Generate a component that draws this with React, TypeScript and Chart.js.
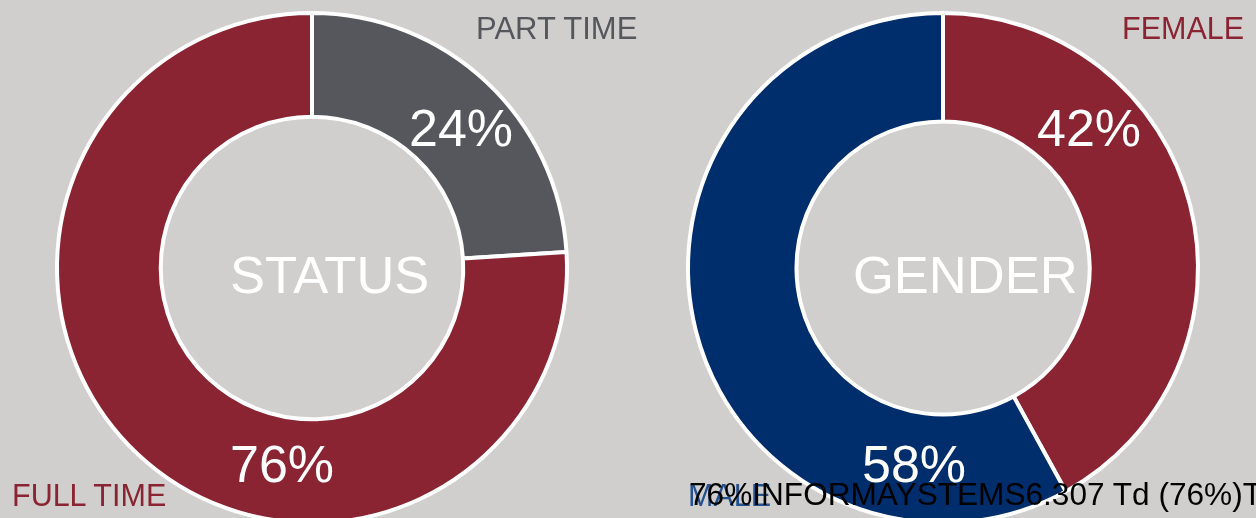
import React, { useEffect, useRef } from "react";
import { Chart, registerables } from "chart.js";

Chart.register(...registerables);

const statusLabels = ["PART TIME", "FULL TIME"];
const statusValues = [24, 76];
const statusColors = ["#55575C", "#8A2332"];

const genderLabels = ["FEMALE", "MALE"];
const genderValues = [42, 58];
const genderColors = ["#8A2332", "#002D6B"];

const BG = "#D0CFCD";
const FONT = '"Liberation Sans", Arial, sans-serif';

function Donut(props: { labels: string[]; values: number[]; colors: string[]; left: number; cutout: number }) {
  const ref = useRef<HTMLCanvasElement>(null);
  useEffect(() => {
    if (!ref.current) return;
    const chart = new Chart(ref.current, {
      type: "doughnut",
      data: {
        labels: props.labels,
        datasets: [
          {
            data: props.values,
            backgroundColor: props.colors,
            borderColor: "#FFFFFF",
            borderWidth: 4,
          },
        ],
      },
      options: {
        responsive: false,
        animation: false,
        radius: 255,
        cutout: props.cutout,
        layout: { padding: 0 },
        plugins: { legend: { display: false }, tooltip: { enabled: false } },
      },
    });
    return () => chart.destroy();
  }, []);
  return (
    <canvas
      ref={ref}
      width={540}
      height={540}
      style={{ position: "absolute", left: props.left, top: -2, width: 540, height: 540 }}
    />
  );
}

function Txt(props: { text: string; left: number; top: number; size: number; color: string }) {
  return (
    <div
      style={{
        position: "absolute",
        left: props.left,
        top: props.top,
        fontSize: props.size,
        lineHeight: props.size + "px",
        color: props.color,
        fontFamily: FONT,
        whiteSpace: "nowrap",
      }}
    >
      {props.text}
    </div>
  );
}

export default function App() {
  useEffect(() => {
    document.body.style.margin = "0";
  }, []);
  return (
    <div
      style={{
        position: "fixed",
        left: 0,
        top: 0,
        width: 1256,
        height: 518,
        background: BG,
        overflow: "hidden",
      }}
    >
      <Donut labels={statusLabels} values={statusValues} colors={statusColors} left={42} cutout={159} />
      <Donut labels={genderLabels} values={genderValues} colors={genderColors} left={673} cutout={154} />

      <Txt text="STATUS" left={230} top={249} size={52.5} color="#FFFFFF" />
      <Txt text="GENDER" left={853} top={249} size={52.5} color="#FFFFFF" />
      <Txt text="24%" left={409} top={102} size={52} color="#FFFFFF" />
      <Txt text="76%" left={230} top={438} size={52} color="#FFFFFF" />
      <Txt text="42%" left={1037} top={102} size={52} color="#FFFFFF" />
      <Txt text="58%" left={862} top={438} size={52} color="#FFFFFF" />

      <Txt text="PART TIME" left={476} top={13} size={31} color="#55575C" />
      <Txt text="FEMALE" left={1122} top={13} size={30.5} color="#8A2332" />
      <Txt text="FULL TIME" left={12} top={480} size={30.5} color="#8A2332" />
      <Txt text="MALE" left={688} top={480} size={30.5} color="#25518F" />
      <Txt text="76%INFORMAYSTEMS6.307 Td (76%)Tj" left={689} top={479} size={31.6} color="#000000" />
    </div>
  );
}
